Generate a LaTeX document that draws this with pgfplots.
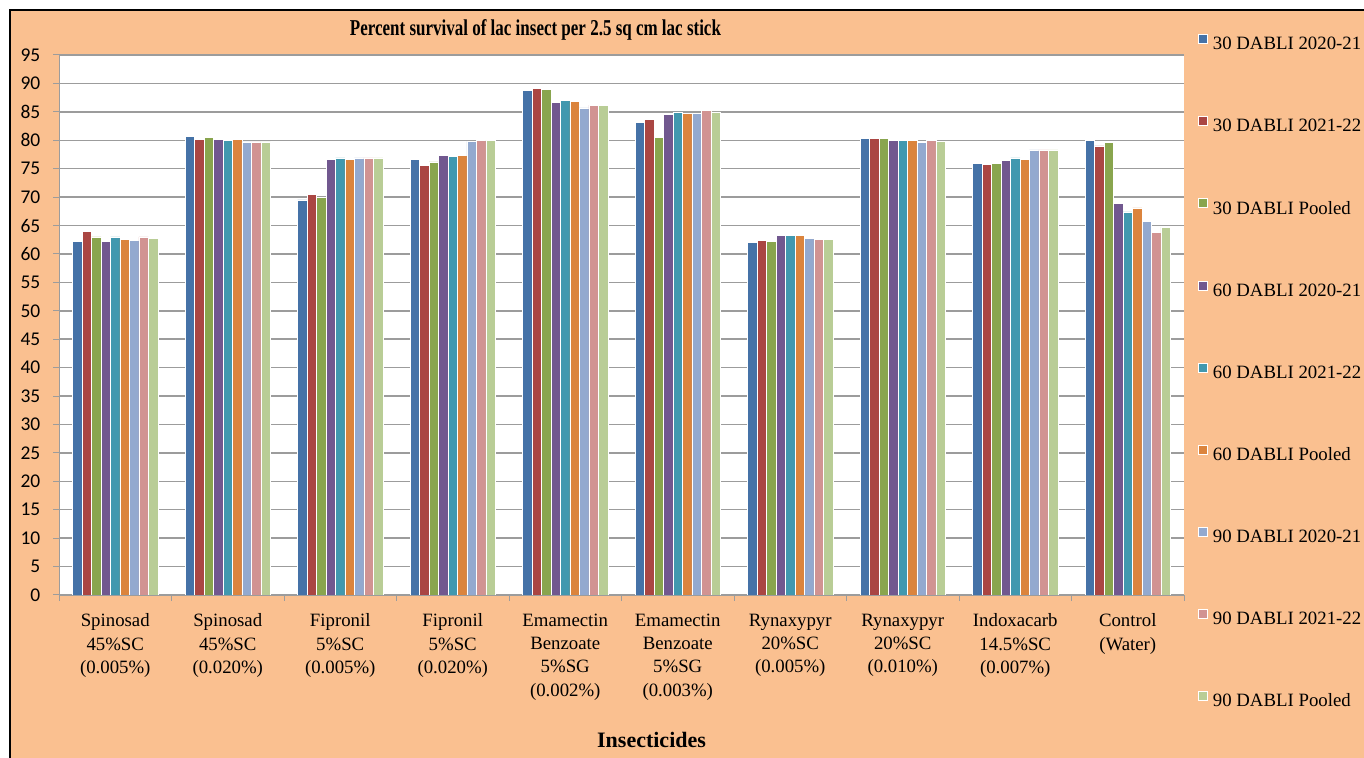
\documentclass[border=0pt]{standalone}
\usepackage{pgfplots}
\pgfplotsset{compat=1.18}
\usepackage{pgfplotstable}
\usepackage{graphicx}
\usepackage{fontspec}
\setmainfont{Liberation Serif}
\newfontfamily\carlito{Carlito}

\definecolor{c1}{HTML}{4572A7}
\definecolor{c2}{HTML}{AA4643}
\definecolor{c3}{HTML}{89A54E}
\definecolor{c4}{HTML}{71588F}
\definecolor{c5}{HTML}{4198AF}
\definecolor{c6}{HTML}{DB843D}
\definecolor{c7}{HTML}{93A9CF}
\definecolor{c8}{HTML}{D19392}
\definecolor{c9}{HTML}{B9CD96}
\definecolor{bg}{HTML}{FAC090}
\definecolor{gridc}{HTML}{9C9C9C}

\pgfplotstableread{
x s1 s2 s3 s4 s5 s6 s7 s8 s9
0 62.2 63.9 63.0 62.2 63.0 62.6 62.4 63.0 62.8
1 80.7 80.1 80.5 80.1 80.0 80.1 79.7 79.7 79.7
2 69.5 70.4 69.9 76.6 76.9 76.7 76.9 76.9 76.9
3 76.6 75.6 76.2 77.3 77.1 77.3 79.8 80.0 80.0
4 88.7 89.1 88.9 86.6 87.0 86.8 85.7 86.2 86.1
5 83.2 83.7 80.5 84.5 85.0 84.7 84.7 85.3 85.0
6 62.0 62.4 62.2 63.2 63.2 63.2 62.8 62.6 62.6
7 80.3 80.3 80.3 80.0 80.0 80.0 79.6 80.0 79.8
8 75.9 75.7 75.9 76.4 76.9 76.7 78.3 78.3 78.3
9 80.0 79.0 79.6 68.9 67.4 68.1 65.7 63.8 64.7
}\data

\begin{document}
\begin{tikzpicture}
\useasboundingbox (0,0) rectangle (1023pt,567.75pt);
\fill[white] (0,0) rectangle (1023pt,567.75pt);
\begin{scope}
\clip (0,0) rectangle (1023pt,567.75pt);
\filldraw[fill=bg, draw=black, line width=1.5pt] (7.5pt,-20pt) rectangle (1040pt,560.25pt);
\end{scope}
\begin{axis}[
  at={(44.25pt,121.5pt)}, anchor=south west,
  scale only axis, width=843.75pt, height=405pt,
  axis background/.style={fill=white},
  xmin=-0.5, xmax=9.5, ymin=0, ymax=95,
  ybar=0pt, bar width=0.0843,
  axis x line*=bottom, axis y line*=left,
  axis line style={gridc, line width=0.75pt, -},
  ytick={0,5,...,95},
  ymajorgrids,
  major grid style={gridc, line width=1.1pt},
  tick align=outside,
  major tick length=4.5pt,
  tick style={gridc, line width=0.75pt},
  xtick={-0.5,0.5,...,9.5},
  xticklabels={{Spinosad\\45\%SC\\(0.005\%)},{Spinosad\\45\%SC\\(0.020\%)},{Fipronil\\5\%SC\\(0.005\%)},{Fipronil\\5\%SC\\(0.020\%)},{Emamectin\\Benzoate\\5\%SG\\(0.002\%)},{Emamectin\\Benzoate\\5\%SG\\(0.003\%)},{Rynaxypyr\\20\%SC\\(0.005\%)},{Rynaxypyr\\20\%SC\\(0.010\%)},{Indoxacarb\\14.5\%SC\\(0.007\%)},{Control\\(Water)},{}},
  xticklabel style={align=center, anchor=north, font=\fontsize{14.1pt}{17.5pt}\selectfont, yshift=-6pt, xshift=42.1875pt},
  yticklabel style={font=\carlito\fontsize{14.6pt}{16pt}\selectfont, anchor=east, xshift=-6pt},
  /pgf/number format/assume math mode=true,
  xlabel={\bfseries\fontsize{16.5pt}{18pt}\selectfont Insecticides},
  xlabel style={at={(axis description cs:0.5267,-0.2685)}, anchor=center, inner sep=0pt},
  legend style={at={(axis description cs:1.01244,1.0391)}, anchor=north west, draw=none, fill=none,
    inner sep=0pt, row sep=46.9pt, column sep=3.75pt,
    font=\fontsize{14.1pt}{16pt}\selectfont,
    nodes={inner sep=0pt, text height=10pt, text depth=3pt}},
  legend cell align=left,
  legend image code/.code={\fill[#1] (0pt,1.2pt) rectangle (6.75pt,7.95pt);},
  every axis plot/.append style={draw=white, line width=0.5pt},
]
\addplot[fill=c1] table[x=x, y=s1] {\data};
\addplot[fill=c2] table[x=x, y=s2] {\data};
\addplot[fill=c3] table[x=x, y=s3] {\data};
\addplot[fill=c4] table[x=x, y=s4] {\data};
\addplot[fill=c5] table[x=x, y=s5] {\data};
\addplot[fill=c6] table[x=x, y=s6] {\data};
\addplot[fill=c7] table[x=x, y=s7] {\data};
\addplot[fill=c8] table[x=x, y=s8] {\data};
\addplot[fill=c9] table[x=x, y=s9] {\data};
\legend{30 DABLI 2020-21, 30 DABLI 2021-22, 30 DABLI Pooled, 60 DABLI 2020-21, 60 DABLI 2021-22, 60 DABLI Pooled, 90 DABLI 2020-21, 90 DABLI 2021-22, 90 DABLI Pooled}
\end{axis}
\node[anchor=base, inner sep=0pt] at (401.6pt,540.75pt)
  {\resizebox{278.25pt}{\height}{\bfseries\fontsize{17pt}{19pt}\selectfont Percent survival of lac insect per 2.5 sq cm lac stick}};
\end{tikzpicture}
\end{document}
